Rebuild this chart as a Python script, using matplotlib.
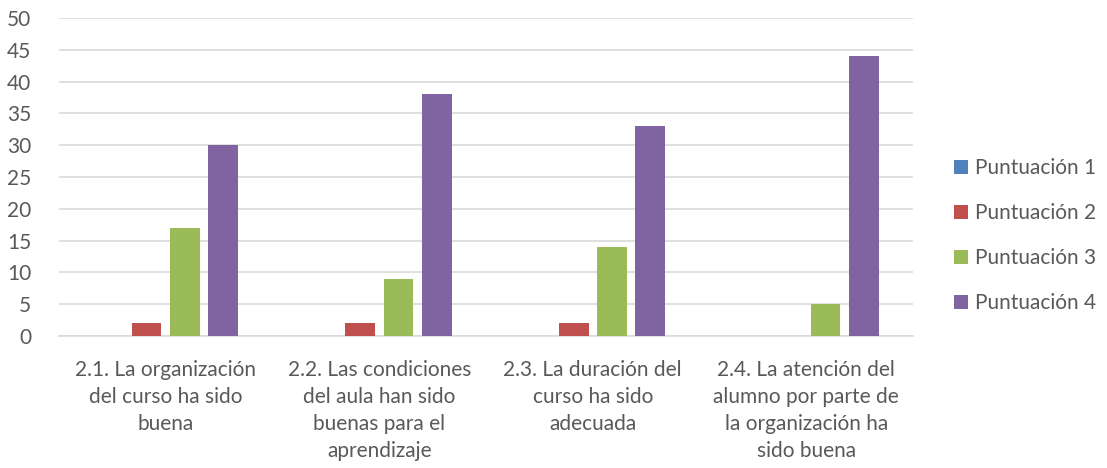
import matplotlib.pyplot as plt
import numpy as np

# Data
categories = [
    "2.1. La organización\ndel curso ha sido\nbuena",
    "2.2. Las condiciones\ndel aula han sido\nbuenas para el\naprendizaje",
    "2.3. La duración del\ncurso ha sido\nadecuada",
    "2.4. La atención del\nalumno por parte de\nla organización ha\nsido buena",
]
series_names = ["Puntuación 1", "Puntuación 2", "Puntuación 3", "Puntuación 4"]
p1 = [0, 0, 0, 0]
p2 = [2, 2, 2, 0]
p3 = [17, 9, 14, 5]
p4 = [30, 38, 33, 44]
colors = ["#4F81BD", "#C0504D", "#9BBB59", "#8064A2"]

plt.rcParams['font.family'] = ['Lato', 'DejaVu Sans']
text_color = '#595959'
fs = 15

fig = plt.figure(figsize=(11.07, 4.68), dpi=100)
ax = fig.add_axes([0.0533, 0.282, 0.7715, 0.6795])

x = np.arange(len(categories))
step = 0.18
width = 0.14
for i, (vals, name, c) in enumerate(zip([p1, p2, p3, p4], series_names, colors)):
    ax.bar(x + (i - 1.5) * step, vals, width, color=c, label=name, zorder=3)

ax.set_xlim(-0.5, len(categories) - 0.5)
ax.set_ylim(0, 50)
ax.set_yticks(range(0, 51, 5))
ax.yaxis.grid(True, color='#D9D9D9', linewidth=1.2, zorder=0)
ax.set_axisbelow(True)
for s in ['top', 'right', 'left']:
    ax.spines[s].set_visible(False)
ax.spines['bottom'].set_color('#D9D9D9')
ax.spines['bottom'].set_linewidth(1.2)

ax.set_xticks(x)
ax.set_xticklabels(categories, fontsize=fs, color=text_color, linespacing=1.45, va='top')
ax.tick_params(axis='x', length=0, pad=17)
ax.tick_params(axis='y', length=0, labelsize=fs, labelcolor=text_color, pad=20)

leg = fig.legend(loc='center left', bbox_to_anchor=(0.845, 0.496), frameon=False,
                 fontsize=fs, handlelength=0.65, handleheight=0.65,
                 handletextpad=0.35, labelspacing=1.2)
for t in leg.get_texts():
    t.set_color(text_color)

fig.savefig('out.png', dpi=100)
